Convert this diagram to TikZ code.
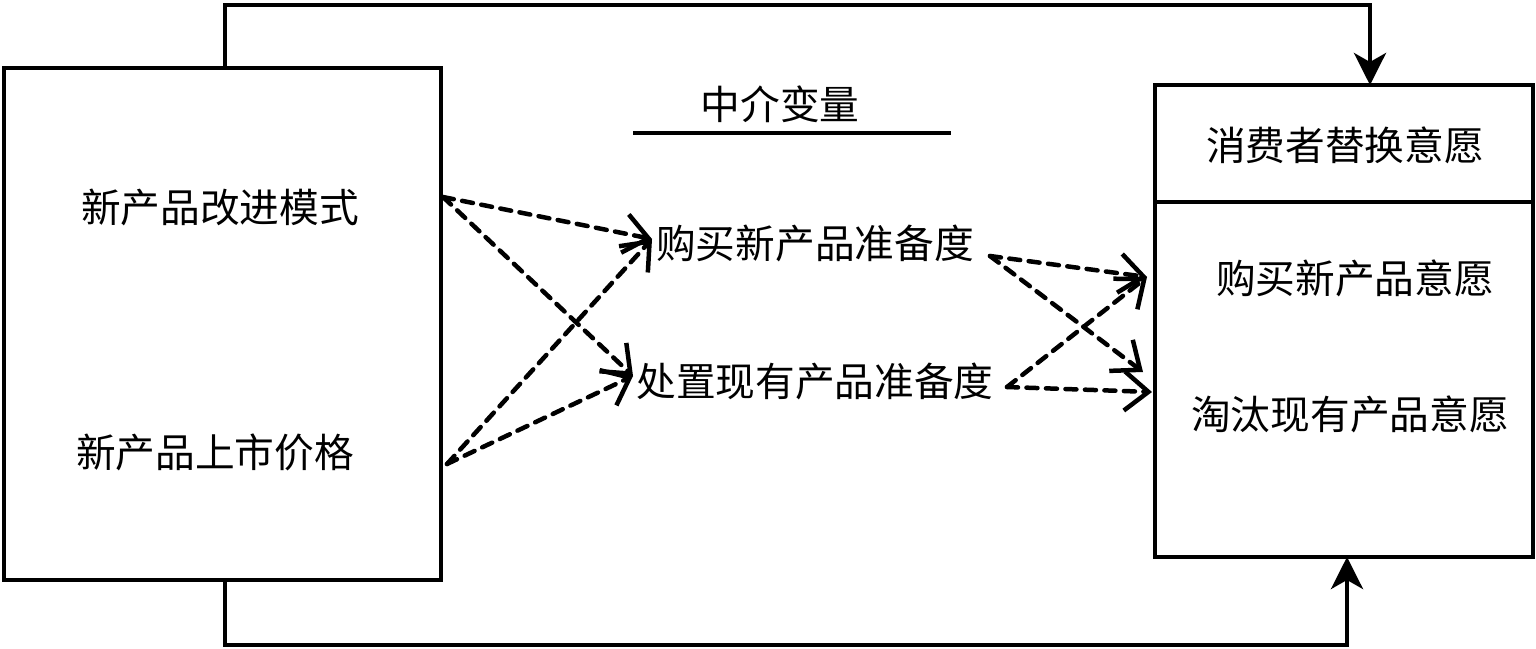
\documentclass[tikz,border=0pt]{standalone}
\usepackage{fontspec}
\setmainfont{Noto Sans CJK SC}
\usetikzlibrary{arrows.meta}
\begin{document}
\begin{tikzpicture}[x=0.02cm,y=-0.02cm,
  box/.style={draw,line width=0.09cm,inner sep=0pt},
  lbl/.style={inner sep=0pt,font=\fontsize{22.6pt}{26pt}\selectfont},
  conn/.style={line width=0.09cm,-{Stealth[length=0.64cm,width=0.64cm,inset=0.18cm]}},
  dasharrow/.style={line width=0.09cm,dash pattern=on 0.22cm off 0.17cm,line cap=round,
    -{Straight Barb[length=0.48cm,width=0.78cm,line width=0.09cm]}}]
\useasboundingbox (0,0) rectangle (1536,649);
% boxes
\node[box,minimum width=8.74cm,minimum height=10.24cm] (lb) at (222.5,324) {};
\node[box,minimum width=7.56cm,minimum height=9.44cm] (rb) at (1344,321) {};
\coordinate (dl) at (1155,202);
\coordinate (dr) at (1533,202);
\draw[line width=0.09cm] (dl) -- (dr);
% texts
\node[lbl] (l1) at (220,207) {新产品改进模式};
\node[lbl] (l2) at (215,452) {新产品上市价格};
\node[lbl] (mv) at (780,104) {中介变量};
\coordinate (u1) at (633,133);
\coordinate (u2) at (951,133);
\draw[line width=0.09cm] (u1) -- (u2);
\node[lbl] (m1) at (815,243) {购买新产品准备度};
\node[lbl] (m2) at (815,381) {处置现有产品准备度};
\node[lbl] (r0) at (1345,145) {消费者替换意愿};
\node[lbl] (r1) at (1355,278) {购买新产品意愿};
\node[lbl] (r2) at (1350,414) {淘汰现有产品意愿};
% outer connectors
\coordinate (ta) at (225,68);
\coordinate (tb) at (225,5);
\coordinate (tc) at (1370,5);
\coordinate (te) at (1370,85);
\draw[conn] (ta) -- (tb) -- (tc) -- (te);
\coordinate (ba) at (225,580);
\coordinate (bb) at (225,645);
\coordinate (bc) at (1347,645);
\coordinate (be) at (1347,557);
\draw[conn] (ba) -- (bb) -- (bc) -- (be);
% dashed arrows, left to middle
\coordinate (s1) at (443,197);
\coordinate (s2) at (447,464);
\coordinate (e1) at (652,239);
\coordinate (e2) at (633,376);
\draw[dasharrow] (s1) -- (e1);
\draw[dasharrow] (s1) -- (e2);
\draw[dasharrow] (s2) -- (e1);
\draw[dasharrow] (s2) -- (e2);
% middle to right
\coordinate (a1) at (990,256);
\coordinate (a2) at (1007,387);
\coordinate (f1) at (1147,277);
\coordinate (f2) at (1143,372);
\coordinate (f3) at (1152,392);
\draw[dasharrow] (a1) -- (f1);
\draw[dasharrow] (a1) -- (f2);
\draw[dasharrow] (a2) -- (f1);
\draw[dasharrow] (a2) -- (f3);
\end{tikzpicture}
\end{document}
